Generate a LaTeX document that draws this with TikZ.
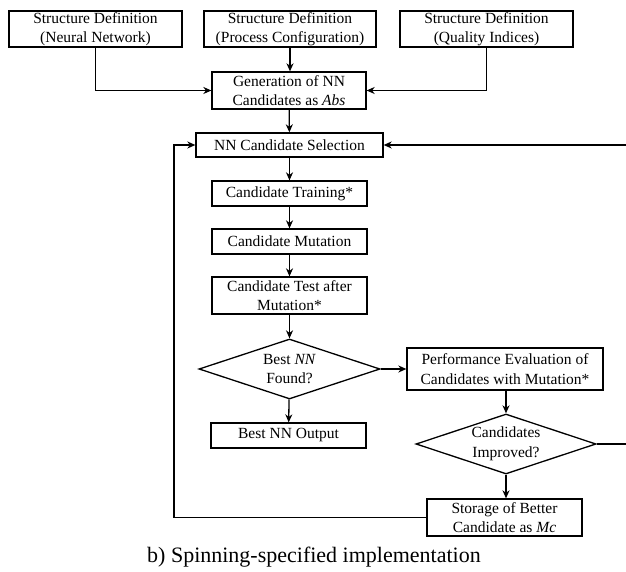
\documentclass[tikz,border=0pt]{standalone}
\usepackage{fontspec}
\setmainfont{Liberation Serif}
\usetikzlibrary{arrows.meta,positioning,shapes.geometric}

\begin{document}
\begin{tikzpicture}[x=1pt, y=-1pt, >={Stealth[length=8pt,width=7pt,inset=2.5pt]}, line width=1.3pt,
    every node/.style={font=\fontsize{15.5}{19.5}\selectfont},
    box/.style={draw, rectangle, align=center, inner sep=0pt, minimum width=155, minimum height=25},
    decide/.style={draw, diamond, aspect=3, align=center, inner sep=0pt, minimum width=181, minimum height=60}]
    \useasboundingbox (0,0) rectangle (626,572);
    % top row
    \node[box, minimum width=173, minimum height=36] (SDnn) at (95.5,29) {Structure Definition\\(Neural Network)};
    \node[box, minimum width=172, minimum height=36] (SDpc) at (290,29) {Structure Definition\\(Process Configuration)};
    \node[box, minimum width=173, minimum height=36] (SDqi) at (486.5,29) {Structure Definition\\(Quality Indices)};
    % main column
    \node[box, minimum width=154, minimum height=37] (Gen) at (289,90.5) {Generation of NN\\Candidates as \textit{Abs}};
    \node[box, minimum width=187, minimum height=24] (Sel) at (289.5,145) {NN Candidate Selection};
    \node[box] (Train) at (289.5,193.5) {Candidate Training*};
    \node[box] (Mut) at (289.5,241.5) {Candidate Mutation};
    \node[box, minimum height=37] (Test) at (289.5,295.5) {Candidate Test after\\Mutation*};
    \node[decide] (Best) at (289.5,369) {Best \textit{NN}\\Found?};
    \node[box] (Out) at (288.5,435.5) {Best NN Output};
    % right column
    \node[box, minimum width=196, minimum height=42] (Perf) at (505,369) {Performance Evaluation of\\Candidates with Mutation*};
    \node[decide, minimum width=180] (Impr) at (506,444) {Candidates\\Improved?};
    \node[box, minimum height=37] (Store) at (504.5,517.5) {Storage of Better\\Candidate as \textit{Mc}};
    \node[font=\fontsize{22}{26}\selectfont] (Cap) at (314,557) {b) Spinning-specified implementation};
    % loop corners
    \coordinate (Lcorner) at (174,517.5);
    \coordinate (Rcorner) at (630,444);
    % connectors
    \draw[->] (SDnn.south) |- (Gen.west);
    \draw[->] (SDqi.south) |- (Gen.east);
    \draw[->] (SDpc.south) -- (SDpc.south |- Gen.north);
    \draw[->] (Gen) -- (Sel);
    \draw[->] (Sel.south -| Train.north) -- (Train);
    \draw[->] (Train) -- (Mut);
    \draw[->] (Mut) -- (Test);
    \draw[->] (Test) -- (Best);
    \draw[->] (Best) -- (Out);
    \draw[->] (Best.east) -- (Perf.west);
    \draw[->] (Perf.south -| Impr.north) -- (Impr);
    \draw[->] (Impr.south) -- (Impr.south |- Store.north);
    \draw[->] (Store.west) -- (Lcorner) |- (Sel.west);
    \draw[->] (Impr.east) -- (Rcorner) |- (Sel.east);
\end{tikzpicture}
\end{document}
